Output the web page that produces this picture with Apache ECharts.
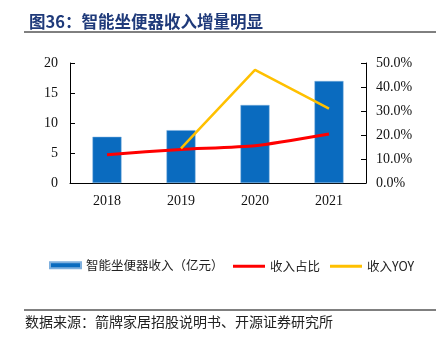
<!DOCTYPE html>
<html><head><meta charset="utf-8">
<script src="https://cdn.jsdelivr.net/npm/echarts@6/dist/echarts.min.js"></script>
<style>html,body{margin:0;padding:0;background:#fff}#c{width:438px;height:340px}</style>
</head><body><div id="c"></div>
<script>
const categories = ['2018', '2019', '2020', '2021'];
const revenue = [7.7, 8.8, 13.0, 17.0];
const share = [11.8, 14.0, 15.5, 20.4];
const yoy = [null, 14.4, 47.1, 31.0];

const chart = echarts.init(document.getElementById('c'));
const serif = '"Liberation Serif", "Times New Roman", serif';
const cjk = '"Noto Sans CJK SC", sans-serif';
chart.setOption({
  animation: false,
  title: {
    text: '图36：智能坐便器收入增量明显',
    left: 24, top: 8,
    textStyle: { fontFamily: cjk, fontSize: 16.5, fontWeight: 'bold', color: '#1f3a7a' }
  },
  graphic: [
    { type: 'line', shape: { x1: 24, y1: 32, x2: 436, y2: 32 }, style: { stroke: '#000', lineWidth: 1 } },
    { type: 'line', shape: { x1: 24, y1: 310, x2: 436, y2: 310 }, style: { stroke: '#000', lineWidth: 1 } },
    { type: 'text', left: 25, top: 315, style: { text: '数据来源：箭牌家居招股说明书、开源证券研究所', font: '14px "Noto Sans CJK SC"', fill: '#222' } }
  ],
  legend: [
    { data: [{ name: '智能坐便器收入（亿元）', icon: 'rect' }], left: 44, top: 254, itemWidth: 31, itemHeight: 6, itemGap: 5,
      textStyle: { fontFamily: cjk, fontSize: 12.5, color: '#222' } },
    { data: [{ name: '收入占比', icon: 'rect' }, { name: '收入YOY', icon: 'rect' }], left: 228, top: 255, itemWidth: 32, itemHeight: 3, itemGap: 10,
      textStyle: { fontFamily: cjk, fontSize: 12.5, color: '#222' } }
  ],
  grid: { left: 70, right: 72, top: 63, bottom: 157 },
  xAxis: {
    type: 'category', data: categories,
    axisLine: { lineStyle: { color: '#000' } },
    axisTick: { inside: true, lineStyle: { color: '#000' } },
    axisLabel: { fontFamily: serif, fontSize: 14, color: '#111', margin: 11 }
  },
  yAxis: [
    { type: 'value', min: 0, max: 20, interval: 5,
      axisLine: { show: true, lineStyle: { color: '#000' } },
      axisTick: { show: true, inside: true, lineStyle: { color: '#000' } },
      splitLine: { show: false },
      axisLabel: { fontFamily: serif, fontSize: 14, color: '#111', margin: 12 } },
    { type: 'value', min: 0, max: 50, interval: 10,
      axisLine: { show: true, lineStyle: { color: '#000' } },
      axisTick: { show: true, inside: true, lineStyle: { color: '#000' } },
      splitLine: { show: false },
      axisLabel: { fontFamily: serif, fontSize: 14, color: '#111', margin: 10, formatter: v => v.toFixed(1) + '%' } }
  ],
  series: [
    { name: '智能坐便器收入（亿元）', type: 'bar', data: revenue, barWidth: 29,
      itemStyle: { color: '#0a6bbf', borderColor: '#7fb0de', borderWidth: 0.5 } },
    { name: '收入占比', type: 'line', yAxisIndex: 1, data: share, smooth: 0.2, symbol: 'none',
      lineStyle: { color: '#ff0000', width: 3 }, itemStyle: { color: '#ff0000' } },
    { name: '收入YOY', type: 'line', yAxisIndex: 1, data: yoy, symbol: 'none',
      lineStyle: { color: '#ffc000', width: 2.5 }, itemStyle: { color: '#ffc000' } }
  ]
});
</script></body></html>
